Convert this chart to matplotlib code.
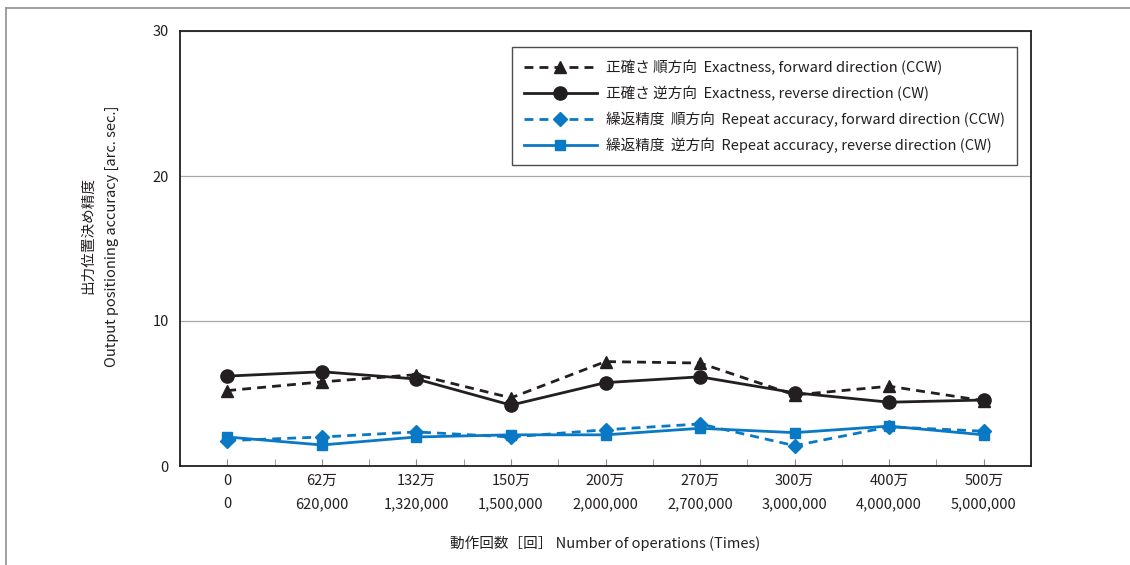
import matplotlib
matplotlib.use("Agg")
import matplotlib.pyplot as plt
from matplotlib.lines import Line2D
from matplotlib.ticker import FixedLocator

plt.rcParams['font.family'] = ['Noto Sans CJK JP', 'DejaVu Sans']

# operation counts (two-row tick labels)
labels_jp = ['0', '62万', '132万', '150万', '200万', '270万', '300万', '400万', '500万']
labels_num = ['0', '620,000', '1,320,000', '1,500,000', '2,000,000',
              '2,700,000', '3,000,000', '4,000,000', '5,000,000']

# accuracy values [arc. sec.]
exact_fwd = [5.2, 5.8, 6.3, 4.7, 7.2, 7.1, 4.9, 5.5, 4.5]
exact_rev = [6.2, 6.5, 6.0, 4.2, 5.75, 6.15, 5.05, 4.4, 4.55]
repeat_fwd = [1.75, 2.0, 2.35, 2.0, 2.5, 2.9, 1.4, 2.7, 2.4]
repeat_rev = [2.0, 1.45, 2.0, 2.15, 2.15, 2.6, 2.3, 2.75, 2.15]

legend_labels = [
    '正確さ 順方向  Exactness, forward direction (CCW)',
    '正確さ 逆方向  Exactness, reverse direction (CW)',
    '繰返精度  順方向  Repeat accuracy, forward direction (CCW)',
    '繰返精度  逆方向  Repeat accuracy, reverse direction (CW)',
]

BLACK = '#231f20'
BLUE = '#0a79c5'

fig = plt.figure(figsize=(11.3, 5.65), dpi=100)
ax = fig.add_axes([180 / 1130, 1 - 466 / 565, (1031 - 180) / 1130, (466 - 31) / 565])

x = range(len(labels_jp))
dash = (0, (3.2, 2.2))
ax.plot(x, exact_fwd, linestyle=dash, color=BLACK, lw=2, marker='^', ms=9, label=legend_labels[0])
ax.plot(x, exact_rev, linestyle='-', color=BLACK, lw=2, marker='o', ms=9.5, label=legend_labels[1])
ax.plot(x, repeat_fwd, linestyle=dash, color=BLUE, lw=2, marker='D', ms=7.5, label=legend_labels[2])
ax.plot(x, repeat_rev, linestyle='-', color=BLUE, lw=2, marker='s', ms=7.5, label=legend_labels[3])

ax.set_xlim(-0.5, 8.5)
ax.set_ylim(0, 30)
ax.set_yticks([0, 10, 20, 30])
ax.yaxis.grid(True, color='#a8a8a8', lw=0.9)
ax.set_axisbelow(True)

ax.set_xticks(list(x))
ax.set_xticklabels([f'{a}\n{b}' for a, b in zip(labels_jp, labels_num)])
ax.xaxis.set_minor_locator(FixedLocator([i + 0.5 for i in range(-1, 9)]))
for t in ax.get_xticklabels():
    t.set_linespacing(1.8)

ax.tick_params(axis='x', which='both', direction='in', length=5, color='#8a8a8a',
               labelsize=10.5, labelcolor='#231f20', pad=6)
ax.tick_params(axis='y', length=0, labelsize=10.5, labelcolor='#231f20', pad=8)

for s in ax.spines.values():
    s.set_color('#231f20')
    s.set_linewidth(1.3)

leg = ax.legend(loc='upper right', bbox_to_anchor=(0.9835, 0.963), borderaxespad=0,
                fontsize=10.5, handlelength=5.0, frameon=True, fancybox=False,
                borderpad=0.85, labelspacing=0.72, handletextpad=0.6)
leg.get_frame().set_edgecolor('#231f20')
leg.get_frame().set_linewidth(1.0)
for t in leg.get_texts():
    t.set_color('#231f20')

fig.text(88 / 1130, 1 - 236 / 565, '出力位置決め精度', rotation=90,
         ha='center', va='center', fontsize=10.5, color='#231f20')
fig.text(112 / 1130, 1 - 236 / 565, 'Output positioning accuracy [arc. sec.]', rotation=90,
         ha='center', va='center', fontsize=10.5, color='#231f20')
fig.text(605 / 1130, 1 - 543 / 565, '動作回数［回］ Number of operations (Times)',
         ha='center', va='center', fontsize=10.5, color='#231f20')

# outer frame lines
fig.add_artist(Line2D([6 / 1130, 6 / 1130], [0, 1 - 8 / 565], transform=fig.transFigure,
                      color='#909090', lw=1.2))
fig.add_artist(Line2D([6 / 1130, 1], [1 - 8 / 565, 1 - 8 / 565], transform=fig.transFigure,
                      color='#909090', lw=1.2))

fig.savefig('out.png', dpi=100)
